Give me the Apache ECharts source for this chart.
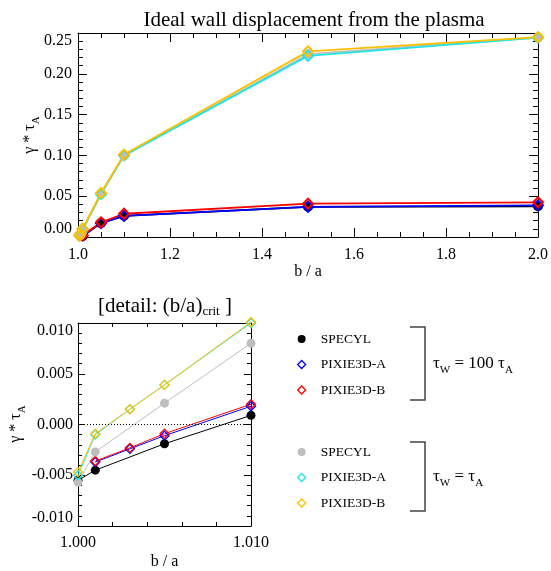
<!DOCTYPE html>
<html>
<head>
<meta charset="utf-8">
<script src="https://cdn.jsdelivr.net/npm/echarts@6/dist/echarts.min.js"></script>
<style>
  html, body { margin: 0; padding: 0; background: #fff; }
  .layer { width: 551px; height: 571px; position: absolute; left: 0; top: 0; }
  #notes { pointer-events: none; }
</style>
</head>
<body>
<div class="layer" id="chart"></div>
<div class="layer" id="notes"></div>
<script>
const FONT = 'Liberation Serif';

// wall radius over plasma radius, b / a
const baFine = [1.000, 1.001, 1.003, 1.005, 1.010];
const baCoarse = [1.05, 1.10, 1.50, 2.00];

// growth rate gamma * tau_A, tau_w = 100 tau_A
const specyl100Fine = [-0.0055, -0.0045, null, -0.0019, 0.0009];
const specyl100Coarse = [0.017, 0.026, 0.037, 0.0376];
const pixA100Fine = [null, -0.0037, -0.0024, -0.0011, 0.0018];
const pixA100Coarse = [0.017, 0.026, 0.037, 0.0388];
const pixB100Fine = [null, -0.0036, -0.0023, -0.0009, 0.0020];
const pixB100Coarse = [0.018, 0.0285, 0.0408, 0.0425];

// growth rate gamma * tau_A, tau_w = tau_A
const specyl1Fine = [-0.0057, -0.0027, null, 0.0021, 0.0080];
const specyl1Coarse = [0.053, 0.0995, 0.224, 0.2445];
const pixA1Fine = [-0.0050, -0.0010, 0.0015, 0.0039, 0.0100];
const pixA1Coarse = [0.0525, 0.100, 0.222, 0.2443];
const pixB1Fine = [-0.0047, -0.0009, 0.0015, 0.0039, 0.0101];
const pixB1Coarse = [0.054, 0.101, 0.2275, 0.245];

const codeNames = ['SPECYL', 'PIXIE3D-A', 'PIXIE3D-B'];
const wallTags = ['τw=100τA', 'τw=τA'];

// drawing order: slow wall group first, then the fast wall group on top
const runs = [
  { code: 0, wall: 0, color: '#000000', marker: 'circle',  fine: specyl100Fine, coarse: specyl100Coarse },
  { code: 1, wall: 0, color: '#0000FF', marker: 'diamond', fine: pixA100Fine,   coarse: pixA100Coarse },
  { code: 2, wall: 0, color: '#FF0000', marker: 'diamond', fine: pixB100Fine,   coarse: pixB100Coarse },
  { code: 0, wall: 1, color: '#BEBEBE', marker: 'circle',  fine: specyl1Fine,   coarse: specyl1Coarse },
  { code: 1, wall: 1, color: '#22E4E4', marker: 'diamond', fine: pixA1Fine,     coarse: pixA1Coarse },
  { code: 2, wall: 1, color: '#FFBF00', marker: 'diamond', fine: pixB1Fine,     coarse: pixB1Coarse }
];

function pairs(xs, ys) {
  const out = [];
  xs.forEach((x, i) => { if (ys[i] !== null) out.push([x, ys[i]]); });
  return out;
}
function seriesName(r) { return codeNames[r.code] + ' [' + wallTags[r.wall] + ']'; }
function markerStyle(r, bw) {
  return r.marker === 'circle'
    ? { color: r.color, borderWidth: 0 }
    : { color: 'rgba(0,0,0,0)', borderColor: r.color, borderWidth: bw };
}

const series = [];
runs.forEach(r => {
  series.push({
    name: seriesName(r), type: 'line', xAxisIndex: 0, yAxisIndex: 0,
    data: pairs(baFine.concat(baCoarse), r.fine.concat(r.coarse)),
    symbol: r.marker, symbolSize: 10,
    showAllSymbol: true, clip: true, animation: false,
    lineStyle: { color: r.color, width: 1.8 },
    itemStyle: markerStyle(r, 2)
  });
});
runs.forEach((r, k) => {
  const s = {
    name: seriesName(r), type: 'line', xAxisIndex: 1, yAxisIndex: 1,
    data: pairs(baFine, r.fine),
    symbol: r.marker, symbolSize: 9,
    showAllSymbol: true, clip: false, animation: false,
    lineStyle: { color: r.color, width: 1 },
    itemStyle: markerStyle(r, 1.3)
  };
  if (k === 0) {
    s.markLine = {
      silent: true, symbol: 'none',
      label: { show: false },
      lineStyle: { type: [1, 2], color: '#000', width: 1 },
      data: [{ yAxis: 0 }]
    };
  }
  series.push(s);
});

const black = '#000';
function xAxisDef(grid, min, max, interval, split, digits, pos, tickLen, minorLen, margin, nameGap) {
  const ax = {
    gridIndex: grid, type: 'value', min: min, max: max, interval: interval, position: pos,
    axisLine: { show: true, onZero: false, lineStyle: { color: black, width: 1 } },
    axisTick: { show: true, inside: true, length: tickLen, lineStyle: { color: black } },
    minorTick: { show: true, splitNumber: split, length: minorLen, lineStyle: { color: black } },
    splitLine: { show: false }, minorSplitLine: { show: false },
    axisLabel: { show: pos === 'bottom', formatter: v => v.toFixed(digits), fontFamily: FONT, fontSize: 16, color: black, margin: margin }
  };
  if (pos === 'bottom') {
    ax.name = 'b / a';
    ax.nameLocation = 'middle';
    ax.nameGap = nameGap;
    ax.nameTextStyle = { fontFamily: FONT, fontSize: 16, color: black };
  }
  return ax;
}
function yAxisDef(grid, min, max, interval, split, digits, pos, tickLen, minorLen, margin) {
  return {
    gridIndex: grid, type: 'value', min: min, max: max, interval: interval, position: pos,
    axisLine: { show: true, onZero: false, lineStyle: { color: black, width: 1 } },
    axisTick: { show: true, inside: true, length: tickLen, lineStyle: { color: black } },
    minorTick: { show: true, splitNumber: split, length: minorLen, lineStyle: { color: black } },
    splitLine: { show: false }, minorSplitLine: { show: false },
    axisLabel: {
      show: pos === 'left', formatter: v => v.toFixed(digits), fontFamily: FONT, fontSize: 16, color: black,
      margin: margin, verticalAlignMaxLabel: 'top', verticalAlignMinLabel: 'bottom'
    }
  };
}

const option = {
  animation: false,
  title: [{
    text: 'Ideal wall displacement from the plasma', left: 309, top: 5, textAlign: 'center',
    textStyle: { fontFamily: FONT, fontSize: 21, fontWeight: 'normal', color: black }
  }],
  grid: [
    { left: 78, top: 33, width: 462, height: 204 },
    { left: 78, top: 323, width: 173, height: 203 }
  ],
  xAxis: [
    xAxisDef(0, 1, 2, 0.2, 4, 1, 'bottom', 9, 5, 10, 27),
    xAxisDef(1, 1.000, 1.010, 0.01, 5, 3, 'bottom', 7, 4, 9, 28),
    xAxisDef(0, 1, 2, 0.2, 4, 1, 'top', 9, 5, 10, 0),
    xAxisDef(1, 1.000, 1.010, 0.01, 5, 3, 'top', 7, 4, 9, 0)
  ],
  yAxis: [
    yAxisDef(0, 0, 0.25, 0.05, 5, 2, 'left', 9, 5, 6),
    yAxisDef(1, -0.010, 0.010, 0.005, 5, 3, 'left', 7, 4, 5),
    yAxisDef(0, 0, 0.25, 0.05, 5, 2, 'right', 9, 5, 6),
    yAxisDef(1, -0.010, 0.010, 0.005, 5, 3, 'right', 7, 4, 5)
  ],
  legend: [0, 1].map(w => ({
    orient: 'vertical', left: 297, top: w === 0 ? 332 : 445, padding: 0,
    itemWidth: 8, itemHeight: 8, itemGap: 11.5, selectedMode: false,
    textStyle: { fontFamily: FONT, fontSize: 13.5, color: black },
    formatter: name => '   ' + name.split(' [')[0],
    data: runs.filter(r => r.wall === w).map(r => ({
      name: seriesName(r), icon: r.marker,
      itemStyle: markerStyle(r, 1.3)
    }))
  })),
  series: series
};
echarts.init(document.getElementById('chart')).setOption(option);

// annotation layer: axis titles with subscripts, detail heading, wall-time brackets
function yName(x, y) {
  return {
    type: 'text', x: x, y: y, rotation: Math.PI / 2,
    style: {
      text: '{b|γ * τ}{s|A}', align: 'center', verticalAlign: 'middle',
      rich: {
        b: { fontFamily: FONT, fontSize: 16, fill: black },
        s: { fontFamily: FONT, fontSize: 11, fill: black, padding: [12, 0, 0, 0] }
      }
    }
  };
}
function tauText(x, y, text) {
  return {
    type: 'text', x: x, y: y,
    style: {
      text: text, verticalAlign: 'middle',
      rich: {
        t: { fontFamily: FONT, fontSize: 17, fill: black },
        s: { fontFamily: FONT, fontSize: 11, fill: black, padding: [12, 0, 0, 0] }
      }
    }
  };
}
echarts.init(document.getElementById('notes')).setOption({
  animation: false,
  graphic: [
    yName(30, 135),
    yName(16, 424),
    {
      type: 'text', x: 165, y: 306,
      style: {
        text: '{b|[detail: (b/a)}{s|crit}{b| ]}', align: 'center', verticalAlign: 'middle',
        rich: {
          b: { fontFamily: FONT, fontSize: 21, fill: black },
          s: { fontFamily: FONT, fontSize: 13, fill: black, padding: [12, 0, 0, 0] }
        }
      }
    },
    { type: 'polyline', shape: { points: [[410, 327], [425, 327], [425, 400], [410, 400]] },
      style: { stroke: '#444', lineWidth: 1.5, fill: 'none' } },
    { type: 'polyline', shape: { points: [[410, 442], [425, 442], [425, 511], [410, 511]] },
      style: { stroke: '#444', lineWidth: 1.5, fill: 'none' } },
    tauText(433, 364, '{t|τ}{s|W}{t| = 100 τ}{s|A}'),
    tauText(433, 477, '{t|τ}{s|W}{t| = τ}{s|A}')
  ]
});
</script>
</body>
</html>
